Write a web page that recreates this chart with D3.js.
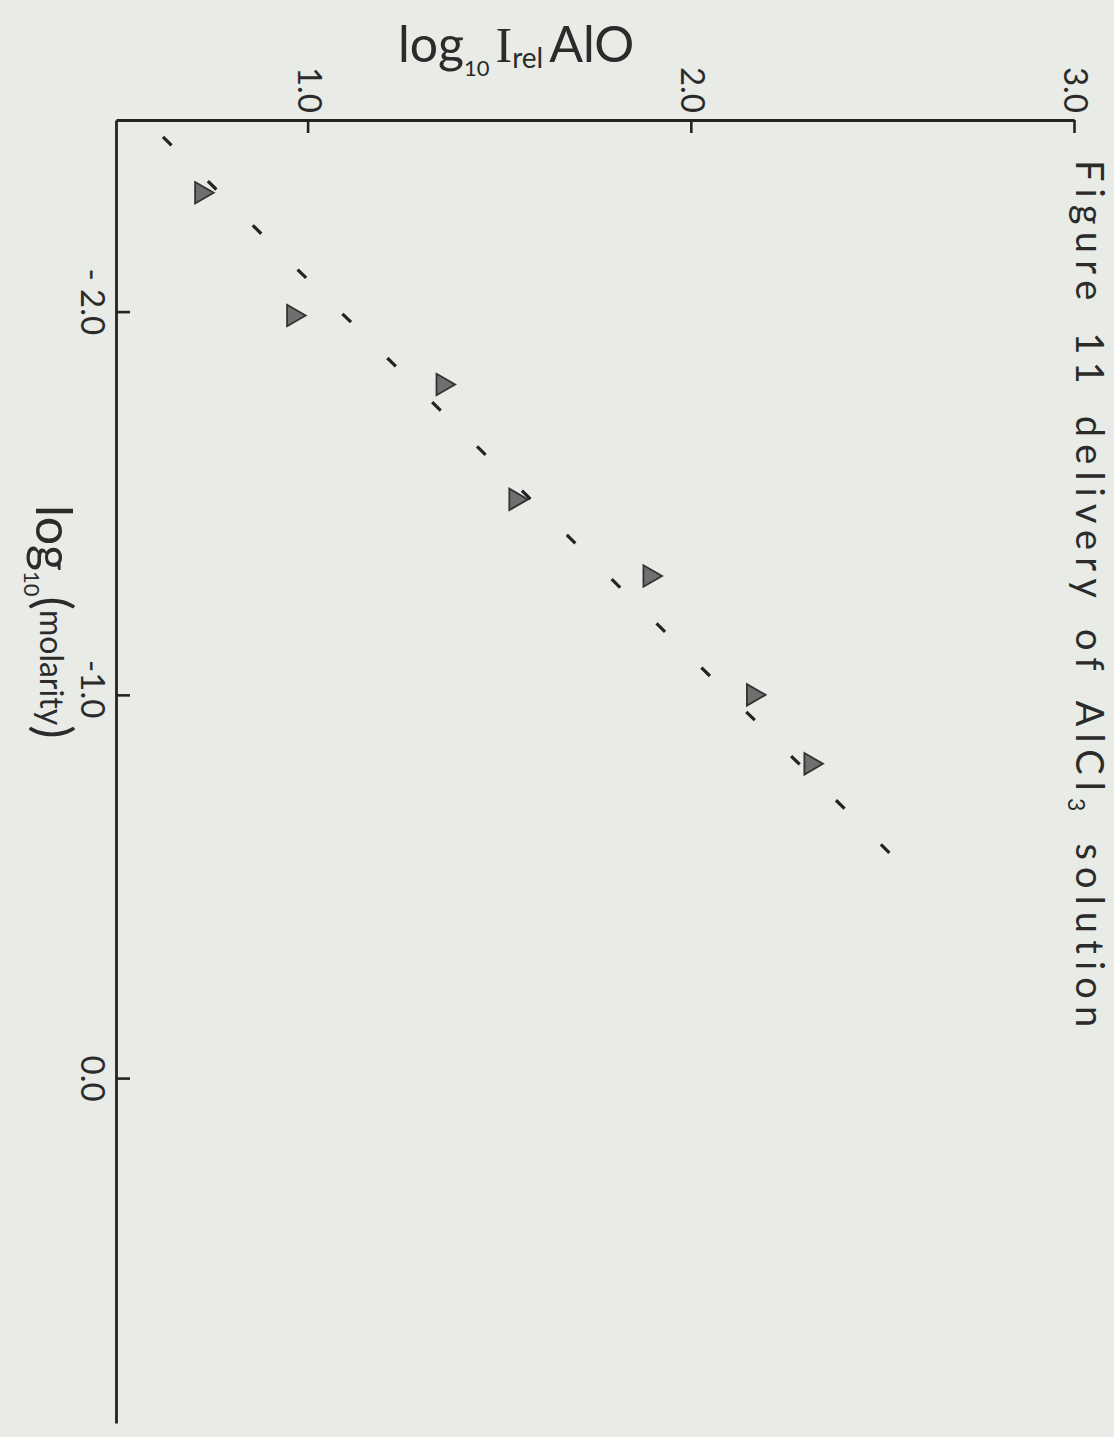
<!DOCTYPE html>
<html>
<head>
<meta charset="utf-8">
<script src="https://cdn.jsdelivr.net/npm/d3@7"></script>
<style>
  body { margin: 0; background: #e8ebe6; }
  svg { display: block; }
  text { font-family: Lato, "Open Sans", "DejaVu Sans", sans-serif; fill: #2b2b2b; }
</style>
</head>
<body>
<svg id="chart" width="1114" height="1437"></svg>
<script>
// Valores
const logMolarity = [-2.31, -1.99, -1.81, -1.51, -1.31, -1.00, -0.82];
const logIrel = [0.72, 0.96, 1.35, 1.54, 1.89, 2.16, 2.31];

// recta de ajuste (discontinua), extremos
const fitX = [-2.456, -0.535];
const fitY = [0.620, 2.569];

const xTicks = [-2, -1, 0];
const xTickLabels = ["- 2.0", "-1.0", "0.0"];
const yTicks = [1, 2, 3];
const yTickLabels = ["1.0", "2.0", "3.0"];

const W = 1114, H = 1437;
const ink = "#232323";

const svg = d3.select("#chart");
svg.append("rect").attr("width", W).attr("height", H).attr("fill", "#e8ebe6");

// el gráfico está girado 90° en la página
const g = svg.append("g").attr("transform", `translate(${W},0) rotate(90)`);

const x = d3.scaleLinear().domain([-2.5, 0.9]).range([120, 1423]);
const y = d3.scaleLinear().domain([0.5, 3.0]).range([997, 39]);

// eje de molaridad
const gx = g.append("g")
    .attr("transform", `translate(0,${y(0.5)})`)
    .call(d3.axisBottom(x)
        .tickValues(xTicks)
        .tickSizeInner(-13)
        .tickSizeOuter(0)
        .tickPadding(13)
        .tickFormat((d, i) => xTickLabels[i]));

// eje de intensidad
const gy = g.append("g")
    .attr("transform", `translate(${x(-2.5)},0)`)
    .call(d3.axisLeft(y)
        .tickValues(yTicks)
        .tickSizeInner(-13)
        .tickSizeOuter(0)
        .tickPadding(7)
        .tickFormat((d, i) => yTickLabels[i]));

[gx, gy].forEach(a => {
    a.select(".domain").attr("stroke", ink).attr("stroke-width", 2.8);
    a.selectAll(".tick line").attr("stroke", ink).attr("stroke-width", 2.6);
    a.selectAll(".tick text")
        .attr("fill", ink)
        .style("font-size", "33px")
        .style("font-family", "Lato, 'Open Sans', sans-serif");
});

// centrar la parte numérica sobre la marca (el signo queda a la izquierda)
gx.selectAll(".tick text").each(function(d, i) {
    const t = d3.select(this);
    const full = this.getComputedTextLength();
    t.text(xTickLabels[i].replace(/^-\s*/, ""));
    const w = this.getComputedTextLength();
    t.text(xTickLabels[i]);
    t.attr("dx", -(full - w) / 2);
});

// recta discontinua
const line = d3.line().x(d => x(d[0])).y(d => y(d[1]));
g.append("path")
    .datum(fitX.map((v, i) => [v, fitY[i]]))
    .attr("d", line)
    .attr("fill", "none")
    .attr("stroke", ink)
    .attr("stroke-width", 3.2)
    .attr("stroke-dasharray", "12 51");

// puntos (triángulos)
g.selectAll("path.pt")
    .data(logMolarity)
    .join("path")
    .attr("class", "pt")
    .attr("transform", (d, i) => `translate(${x(d)},${y(logIrel[i])})`)
    .attr("d", d3.symbol(d3.symbolTriangle, 200))
    .attr("fill", "#6f6f6f")
    .attr("stroke", "#333")
    .attr("stroke-width", 1.8);

// título, estirado hasta el largo que tiene en la figura
const title = g.append("text")
    .attr("x", 160)
    .attr("y", 38)
    .style("font-size", "38px")
    .style("word-spacing", "8px");
title.append("tspan").text("Figure 11 delivery of AlCl");
title.append("tspan").attr("dy", 8).style("font-size", "23px").text("3");
title.append("tspan").attr("dy", -8).text(" solution");
const tw = title.node().getComputedTextLength();
const nChars = "Figure 11 delivery of AlCl3 solution".length;
title.style("letter-spacing", ((875 - tw) / nChars) + "px");

// etiqueta del eje de molaridad
const xl = g.append("text")
    .attr("x", 505)
    .attr("y", 1078)
    .style("font-size", "50px");
xl.append("tspan").text("log");
xl.append("tspan").attr("dy", 12).style("font-size", "22px").text("10");
xl.append("tspan").attr("dy", -12).text("(");
xl.append("tspan").style("font-size", "32px").attr("dy", -4).text("molarity");
xl.append("tspan").attr("dy", 4).text(")");

// etiqueta del eje de intensidad (horizontal en la página)
const yl = svg.append("text")
    .attr("x", 398)
    .attr("y", 62)
    .style("font-size", "50px");
yl.append("tspan").text("log");
yl.append("tspan").attr("dy", 14).style("font-size", "22px").text("10");
yl.append("tspan").attr("dy", -14).attr("dx", 6)
    .style("font-family", "'Liberation Serif', serif").text("I");
yl.append("tspan").attr("dy", 6).style("font-size", "28px").text("rel");
yl.append("tspan").attr("dy", -6).attr("dx", 6).text("AlO");
</script>
</body>
</html>
